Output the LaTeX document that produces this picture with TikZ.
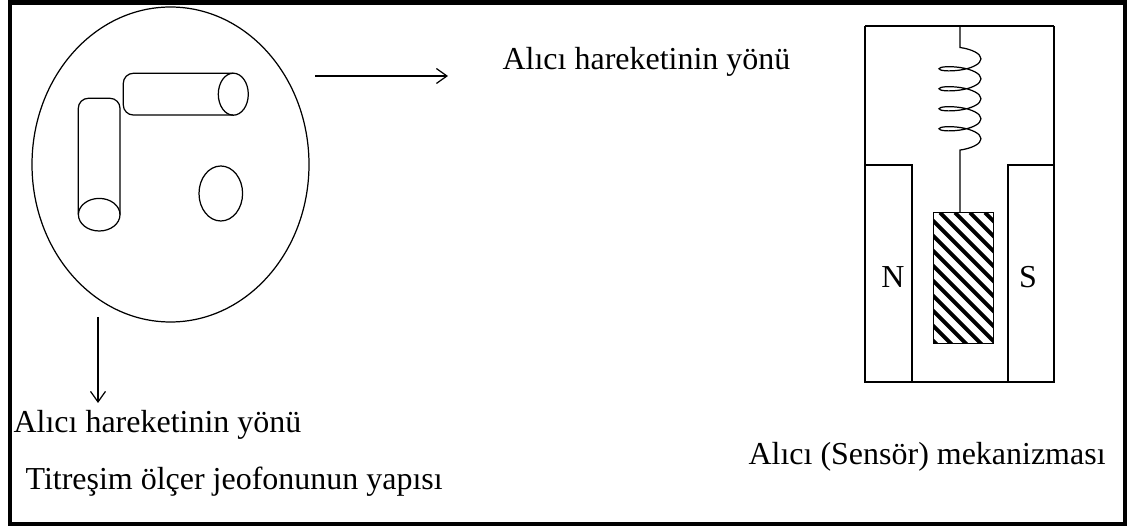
\documentclass[tikz,border=0pt]{standalone}
\usepackage{fontspec}
\setmainfont{Liberation Serif}
\usetikzlibrary{arrows.meta,decorations.pathmorphing}

\begin{document}
\begin{tikzpicture}[x=0.02cm,y=-0.02cm,line width=0.7pt,
		>={Straight Barb[length=6pt,width=8.5pt]},
		lbl/.style={inner sep=0pt,anchor=base west,font=\fontsize{18.2}{22}\selectfont},
		spring/.style={decorate,decoration={coil,amplitude=0.42cm,segment length=0.4cm,aspect=0.3,pre length=0.44cm,post length=0.95cm}}]
			\useasboundingbox (0,0) rectangle (1136,526);
			\draw[line width=2.6pt] (10,2.5) rectangle (1125,524);
			% geophone seen from above
			\draw (170.5,164.5) ellipse [x radius=138.5,y radius=157.5];
			\draw[rounded corners=0.2cm] (233.3,73.3) -- (123.3,73.3) -- (123.3,115) -- (233.3,115);
			\draw (233.3,94.2) ellipse [x radius=15,y radius=21];
			\draw[rounded corners=0.2cm] (78.3,214.7) -- (78.3,98.3) -- (120,98.3) -- (120,214.7);
			\draw (99.2,214.7) ellipse [x radius=20.8,y radius=16.3];
			\draw (220.8,193.5) ellipse [x radius=21.8,y radius=27.5];
			\coordinate (side0) at (315,76); \coordinate (side1) at (448,76);
			\coordinate (down0) at (98,317); \coordinate (down1) at (98,403);
			\draw[->] (side0) -- (side1);
			\draw[->] (down0) -- (down1);
			\node[lbl] (dirright) at (502,70) {Alıcı hareketinin yönü};
			\node[lbl] (dirdown) at (13,433) {Alıcı hareketinin yönü};
			\node[lbl] (geocap) at (25,490) {Titreşim ölçer jeofonunun yapısı};
			% sensor: frame, magnets, spring and mass
			\draw (865,26) -- (1054,26);
			\draw (865,26) -- (865,382) -- (1054,382) -- (1054,26);
			\draw (865,165) -- (912,165) -- (912,382);
			\draw (1054,165) -- (1008,165) -- (1008,382);
			\begin{scope}
				\clip (933.3,212.7) rectangle (993.3,343.3);
				\foreach \k in {-10,...,4}
					\draw[line width=2.2pt] (940+15*\k,212.7) -- ++(140,140);
			\end{scope}
			\draw (933.3,212.7) rectangle (993.3,343.3);
			\coordinate (hook) at (960,25.5); \coordinate (masstop) at (960,212.7);
			\draw[spring] (hook) -- (masstop);
			\node[lbl,anchor=base] (north) at (893,288) {N};
			\node[lbl,anchor=base] (south) at (1028,288) {S};
			\node[lbl] (sensorcap) at (748,465) {Alıcı (Sensör) mekanizması};
		\end{tikzpicture}
\end{document}
